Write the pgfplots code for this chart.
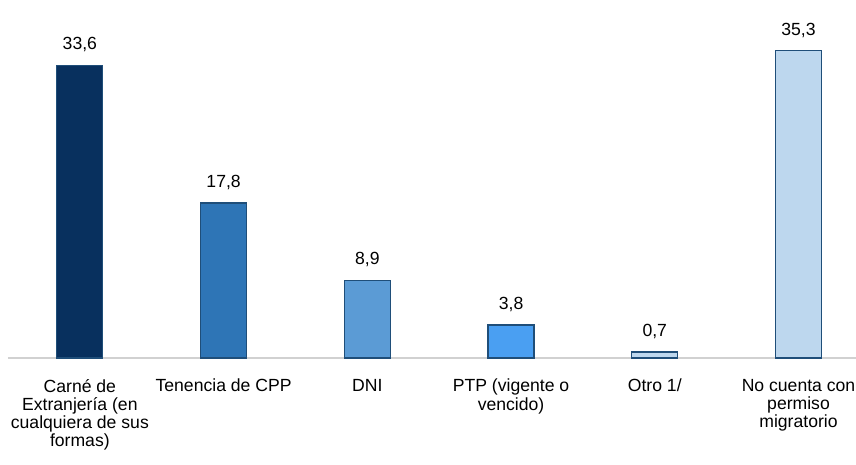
\documentclass[border=0pt]{standalone}
\usepackage{fontspec}
\setmainfont{Liberation Sans}
\usepackage{pgfplots}
\pgfplotsset{compat=1.18}
\definecolor{cNavy}{HTML}{08305E}
\definecolor{cMid}{HTML}{2E75B6}
\definecolor{cSky}{HTML}{5B9BD5}
\definecolor{cBright}{HTML}{4A9FF2}
\definecolor{cPale}{HTML}{BDD7EE}
\definecolor{cEdge}{HTML}{1F4E79}

\begin{document}
\begin{tikzpicture}
\begin{axis}[
  scale only axis,
  width=424pt, height=179pt,
  ybar, bar width=23pt, bar shift=0pt,
  xmin=-0.5, xmax=5.4, ymin=0, ymax=41.1,
  hide y axis,
  axis x line*=bottom,
  x axis line style={-, draw=black!18, line width=1pt},
  xtick={0,1,2,3,4,5}, major tick length=0pt,
  xticklabels={Carné de\\Extranjería (en\\cualquiera de sus\\formas),
    Tenencia de CPP, DNI, PTP (vigente o\\vencido), Otro 1/,
    No cuenta con\\permiso\\migratorio},
  xticklabel style={align=center, anchor=north,
    font=\fontsize{8.8}{9.15}\selectfont, yshift=-7pt},
  nodes near coords,
  every node near coord/.append style={font=\fontsize{8.8}{9.15}\selectfont, yshift=3pt},
  /pgf/number format/.cd, use comma, fixed, fixed zerofill, precision=1,
  assume math mode=true,
]
\addplot[fill=cNavy, draw=cEdge, line width=0.6pt] coordinates {(0,33.6)};
\addplot[fill=cMid, draw=cEdge, line width=0.6pt] coordinates {(1,17.8)};
\addplot[fill=cSky, draw=cEdge, line width=0.6pt] coordinates {(2,8.9)};
\addplot[fill=cBright, draw=cEdge, line width=0.6pt] coordinates {(3,3.8)};
\addplot[fill=cPale, draw=cEdge, line width=0.6pt] coordinates {(4,0.7)};
\addplot[fill=cPale, draw=cEdge, line width=0.6pt] coordinates {(5,35.3)};
\end{axis}
\pgfresetboundingbox
\path (-4pt,-53.5pt) rectangle (424pt,179pt);
\end{tikzpicture}
\end{document}
